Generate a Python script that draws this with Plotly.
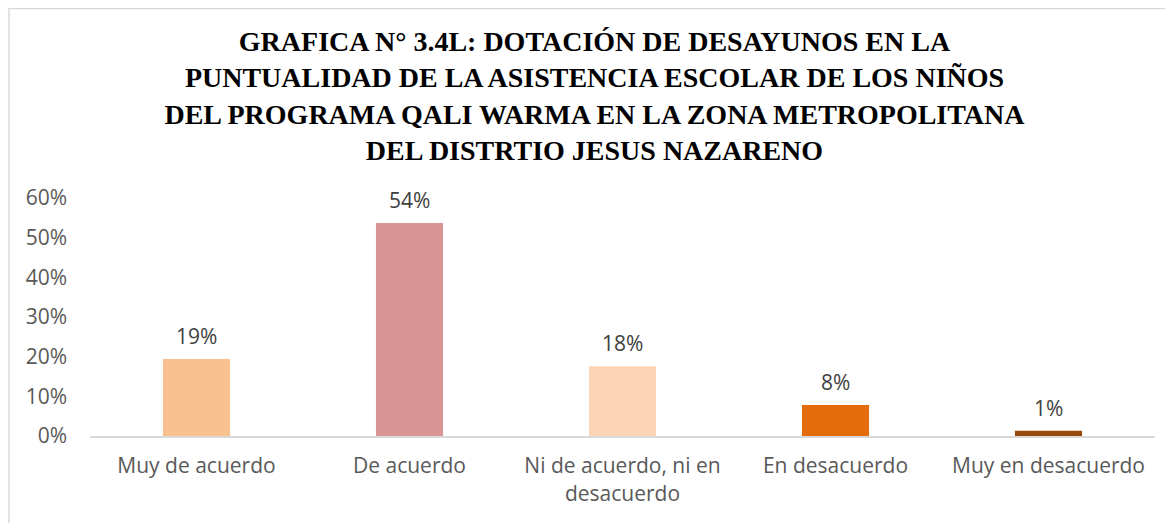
import plotly.graph_objects as go

categories = ["Muy de acuerdo", "De acuerdo", "Ni de acuerdo, ni en<br>desacuerdo",
              "En desacuerdo", "Muy en desacuerdo"]
values = [0.194, 0.537, 0.176, 0.078, 0.013]
colors = ["#F9C18F", "#D99594", "#FBD5B5", "#E46C0A", "#984807"]
y_ticks = [0, 0.1, 0.2, 0.3, 0.4, 0.5, 0.6]
title_text = ("GRAFICA N° 3.4L: DOTACIÓN DE DESAYUNOS EN LA<br>"
              "PUNTUALIDAD DE LA ASISTENCIA ESCOLAR DE LOS NIÑOS<br>"
              "DEL PROGRAMA QALI WARMA EN LA ZONA METROPOLITANA<br>"
              "DEL DISTRTIO JESUS NAZARENO")

W, H = 1173, 523
ml, mr, mt, mb = 82, 26, 190, 95

fig = go.Figure(go.Bar(
    x=categories, y=values, marker=dict(color=colors, line=dict(width=0)),
    width=0.315, hoverinfo="skip",
))

for c, v in zip(categories, values):
    fig.add_annotation(x=c, y=v, text=f"{v:.0%}", showarrow=False,
                       yanchor="bottom", yshift=7,
                       font=dict(family="Open Sans", size=21, color="#404040"))

pw = W - ml - mr
ph = H - mt - mb
fig.add_shape(type="rect", xref="paper", yref="paper",
              x0=(1 - ml) / pw, x1=(1190 - ml) / pw,
              y0=(H - mb - 540) / ph, y1=(H - mb - 0.5) / ph,
              line=dict(color="#D9D9D9", width=1.5), fillcolor="rgba(0,0,0,0)")

fig.update_layout(
    width=W, height=H,
    margin=dict(l=ml, r=mr, t=mt, b=mb, autoexpand=False),
    paper_bgcolor="white", plot_bgcolor="white",
    showlegend=False,
    title=dict(text=title_text, x=0.5, xref="container", xanchor="center",
               y=1 - 43 / H, yref="container", yanchor="top",
               font=dict(family="Liberation Serif", size=28, color="black",
                         weight="bold")),
    xaxis=dict(showgrid=False, showline=True, linecolor="#D9D9D9", linewidth=2,
               ticks="", automargin=False, ticklabelstandoff=10,
               tickfont=dict(family="Open Sans", size=21, color="#595959"),
               fixedrange=True),
    yaxis=dict(range=[0, 0.6], tickvals=y_ticks, tickformat=".0%", showgrid=False,
               zeroline=False, showline=False, ticks="", automargin=False,
               ticklabelstandoff=22,
               tickfont=dict(family="Open Sans", size=21, color="#595959"),
               fixedrange=True),
)

fig.write_html("out.html")
